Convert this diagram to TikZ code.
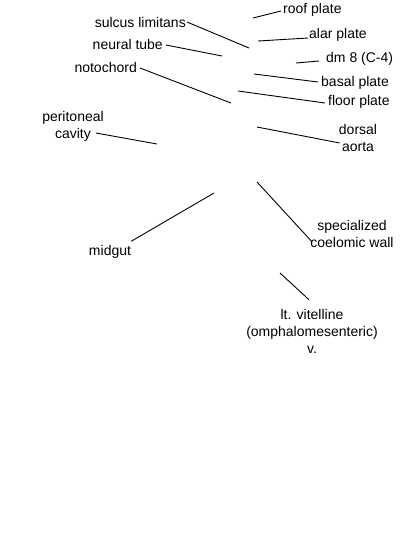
\documentclass[tikz,border=0pt]{standalone}
\usepackage{fontspec}
\setmainfont{Liberation Sans}
\usetikzlibrary{positioning}

\begin{document}
\begin{tikzpicture}[
  x=1pt, y=-1pt,
  lbl/.style={inner sep=0pt, font=\fontsize{14}{17}\selectfont, align=center},
  leader/.style={draw=black, line width=0.9pt}
]
\useasboundingbox (0,0) rectangle (400,550);

% labels, right side
\node[lbl, anchor=west] (roof) at (283,10) {roof plate};
\node[lbl, anchor=west] (alar) at (309,35) {alar plate};
\node[lbl, anchor=west] (dm) at (326,59) {dm 8 (C-4)};
\node[lbl, anchor=west] (basal) at (321,83) {basal plate};
\node[lbl, anchor=west] (floor) at (328,102) {floor plate};
\node[lbl] (aorta) at (358,138) {dorsal\\aorta};
\node[lbl] (coel) at (352,234) {specialized\\coelomic wall};
\node[lbl] (vit) at (312,331) {lt. vitelline\\(omphalomesenteric)\\v.};

% labels, left side
\node[lbl, anchor=east] (sulcus) at (186,22) {sulcus limitans};
\node[lbl, anchor=east] (neural) at (163,44) {neural tube};
\node[lbl, anchor=east] (noto) at (137,67) {notochord};
\node[lbl] (perit) at (73,126) {peritoneal\\cavity};
\node[lbl] (midgut) at (110,252) {midgut};

% leader tips
\coordinate (roofTip) at (253,18);
\coordinate (alarTip) at (258,41);
\coordinate (dmTip) at (296,63);
\coordinate (basalTip) at (254,74);
\coordinate (floorTip) at (238,91);
\coordinate (aortaTip) at (257,127);
\coordinate (coelTip) at (257,182);
\coordinate (vitTip) at (280,273);
\coordinate (sulcusTip) at (249,48);
\coordinate (neuralTip) at (222,56);
\coordinate (notoTip) at (231,103);
\coordinate (peritTip) at (157,144);
\coordinate (midgutTip) at (214,193);

\draw[leader] (roof.west) ++(-2,1) -- (roofTip);
\draw[leader] (alar.west) ++(-1,3) -- (alarTip);
\draw[leader] (dm.west) ++(-7,2) -- (dmTip);
\draw[leader] (basal.west) ++(-3,-1) -- (basalTip);
\draw[leader] (floor.west) ++(-3,1) -- (floorTip);
\draw[leader] (aorta.west) ++(1,5) -- (aortaTip);
\draw[leader] (coel.west) ++(2,8) -- (coelTip);
\draw[leader] (vit.north) ++(-3,-9) -- (vitTip);
\draw[leader] (sulcus.east) ++(1,0) -- (sulcusTip);
\draw[leader] (neural.east) ++(3,1) -- (neuralTip);
\draw[leader] (noto.east) ++(3,1) -- (notoTip);
\draw[leader] (perit.east) ++(-8,7) -- (peritTip);
\draw[leader] (midgut.north east) ++(0,-4) -- (midgutTip);
\end{tikzpicture}
\end{document}
